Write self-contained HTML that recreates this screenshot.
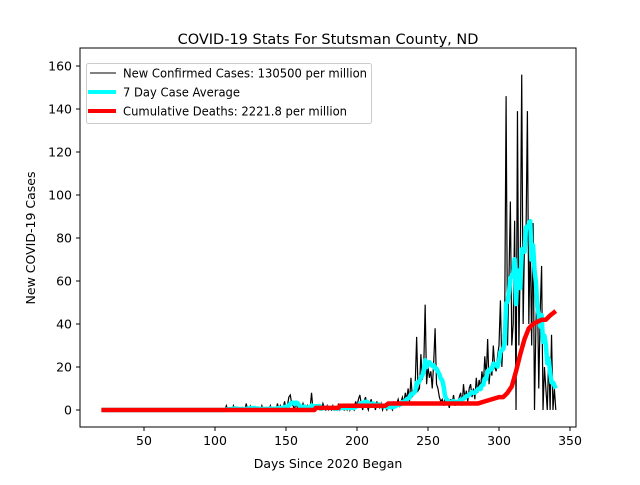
<!DOCTYPE html>
<html><head><meta charset="utf-8"><style>
body{margin:0;background:#fff;}
svg text{font-family:"DejaVu Sans","Liberation Sans",sans-serif;fill:#000;}
</style></head><body>
<svg id="chart" width="640" height="480" xmlns="http://www.w3.org/2000/svg">
<rect width="640" height="480" fill="#fff"/>
<text x="328" y="44" font-size="14.5" text-anchor="middle">COVID-19 Stats For Stutsman County, ND</text>
<g id="plot"></g>
<rect x="80" y="48" width="496" height="379" fill="none" stroke="#000" stroke-width="1"/>
<g id="xt"></g>
<g id="yt"></g>
<text x="328" y="468" font-size="12.5" text-anchor="middle">Days Since 2020 Began</text>
<text transform="translate(35,238) rotate(-90)" font-size="12.5" text-anchor="middle">New COVID-19 Cases</text>
<g>
<rect x="86.5" y="63.5" width="285" height="60" rx="2" fill="#fff" fill-opacity="0.8" stroke="#ccc"/>
<g><line x1="90" y1="73" x2="116" y2="73" stroke="#000" stroke-width="1"/><text x="123" y="77.5" font-size="12" textLength="244" lengthAdjust="spacingAndGlyphs">New Confirmed Cases: 130500 per million</text></g>
<g><line x1="88" y1="92" x2="116" y2="92" stroke="#0ff" stroke-width="4"/><text x="123" y="96.5" font-size="12" textLength="117" lengthAdjust="spacingAndGlyphs">7 Day Case Average</text></g>
<g><line x1="88" y1="111" x2="116" y2="111" stroke="#f00" stroke-width="4"/><text x="123" y="115.5" font-size="12" textLength="224" lengthAdjust="spacingAndGlyphs">Cumulative Deaths: 2221.8 per million</text></g>
</g>
</svg>
<script>
const startDay = 20;
const dailyCases = [
0,0,0,0,0,0,0,0,0,0, 0,0,0,0,0,0,0,0,0,0, 0,0,0,0,0,0,0,0,0,0, 0,0,0,0,0,0,0,0,0,0,
0,0,0,0,0,0,0,0,0,0, 0,0,0,0,0,0,0,0,0,0, 0,0,0,0,0,0,0,0,0,0, 0,0,0,0,0,0,0,0,0,0,
0,0,0,0,0,0,0,0,2,0,
1,0,0,2,0,1,0,0,0,1,
0,0,3,0,1,2,0,0,1,0,
1,0,0,2,0,0,1,0,0,2,
0,1,0,0,3,0,2,0,1,4,
0,2,6,7,3,2,0,4,1,0,
2,0,3,1,0,2,0,1,8,0,
1,0,2,1,0,0,3,1,0,2,
0,1,0,2,0,1,0,3,0,1,
2,0,1,0,3,0,2,1,0,4,
2,5,7,3,0,4,6,2,0,3,
5,1,3,0,4,2,1,3,0,2,
1,0,2,3,1,0,4,2,3,5,
2,4,6,3,8,5,10,4,15,6,
8,12,34,9,10,26,14,20,49,12,
20,15,18,10,22,38,12,10,6,4,
5,2,6,3,4,1,5,3,7,2,
4,3,6,8,2,12,5,9,4,10,
12,6,10,5,15,8,14,10,18,12,
25,15,33,12,20,16,30,20,18,25,
30,51,20,35,40,146,30,60,97,30,
40,88,0,139,30,70,156,40,80,80,
139,40,80,30,87,0,40,60,10,45,
67,0,20,10,0,25,0,35,0,10,
0];
const deathDays = [20,170,171,187,188,220,222,285,290,295,300,303,306,309,312,315,318,321,324,327,330,333,336,338,340];
const deathVals = [0,0,1,1,2,2,3,3,4,5,6,6,8,11,18,26,33,38,40,41,42,42,44,45,46];
const xTicks = [50,100,150,200,250,300,350];
const yTicks = [0,20,40,60,80,100,120,140,160];

const X = d => 73 + d*1.42;
const Y = v => 410 - v*2.15;
const NS = "http://www.w3.org/2000/svg";
function mk(tag, attrs, parent){const e=document.createElementNS(NS,tag);for(const k in attrs)e.setAttribute(k,attrs[k]);parent.appendChild(e);return e;}
const plot = document.getElementById('plot');

let pts = dailyCases.map((v,i)=>X(startDay+i).toFixed(2)+','+Y(v).toFixed(2)).join(' ');
const casesLine = mk('polyline',{points:pts,fill:'none',stroke:'#000','stroke-width':1.2,'stroke-linejoin':'miter'},plot);



const avg = dailyCases.map((v,i)=>{let s=0,n=0;for(let j=Math.max(0,i-6);j<=i;j++){s+=dailyCases[j];n++;}return s/n;});
pts = avg.map((v,i)=>X(startDay+i).toFixed(2)+','+Y(v).toFixed(2)).join(' ');
const avgLine = mk('polyline',{points:pts,fill:'none',stroke:'#0ff','stroke-width':4.5,'stroke-linejoin':'round'},plot);



pts = deathDays.map((d,i)=>X(d).toFixed(2)+','+Y(deathVals[i]).toFixed(2)).join(' ');
const deathLine = mk('polyline',{points:pts,fill:'none',stroke:'#f00','stroke-width':4.5,'stroke-linejoin':'round'},plot);



const xt = document.getElementById('xt');
xTicks.forEach(t=>{
  const l = mk('line',{x1:X(t),x2:X(t),y1:427,y2:431,stroke:'#000'},xt);
  
  
  const tx = mk('text',{x:X(t),y:445,'font-size':12.5,'text-anchor':'middle'},xt);
  tx.textContent = t;
  
  
});
const yt = document.getElementById('yt');
yTicks.forEach(t=>{
  const l = mk('line',{x1:76,x2:80,y1:Y(t),y2:Y(t),stroke:'#000'},yt);
  
  
  const tx = mk('text',{x:72,y:Y(t)+4.5,'font-size':12.5,'text-anchor':'end'},yt);
  tx.textContent = t;
  
  
});
</script>
</body></html>
